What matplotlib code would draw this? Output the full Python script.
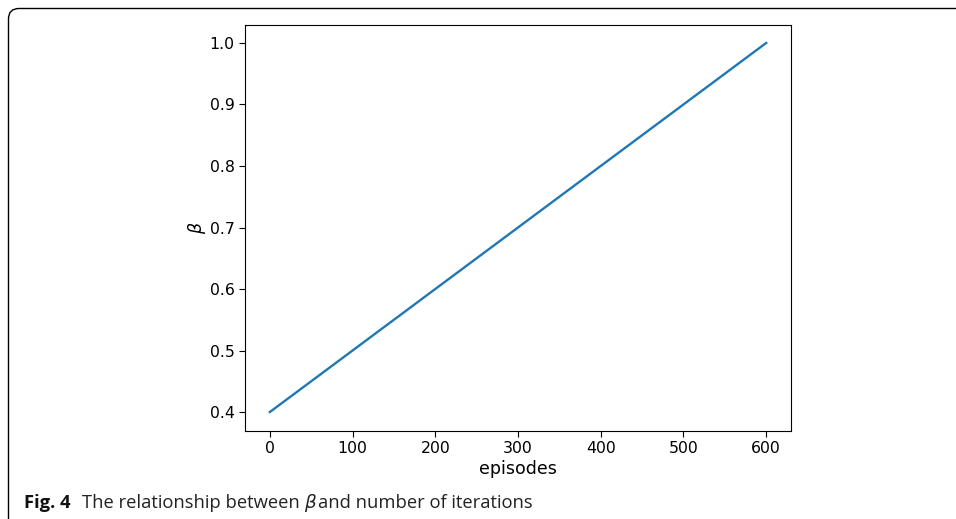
import matplotlib
matplotlib.use("Agg")
import matplotlib.pyplot as plt
from matplotlib.patches import FancyBboxPatch

# data: beta grows linearly over the episodes
episodes = [0, 600]
beta = [0.4, 1.0]
x_ticks = [0, 100, 200, 300, 400, 500, 600]
y_ticks = [0.4, 0.5, 0.6, 0.7, 0.8, 0.9, 1.0]

W, H = 956, 519
fig = plt.figure(figsize=(W / 100, H / 100), dpi=100)

# rounded frame of the journal figure box (runs off the right and bottom edge)
frame = FancyBboxPatch((8.5 / W, -12 / H), 1.2, (H - 8.5 + 12) / H,
                       boxstyle="round,pad=0,rounding_size=0.011",
                       transform=fig.transFigure, facecolor="none",
                       edgecolor="black", linewidth=1.0, mutation_aspect=W / H)
fig.patches.append(frame)

ax = fig.add_axes([245 / W, 1 - 430.5 / H, 546 / W, 406 / H])
ax.plot(episodes, beta, color="#1f77b4", linewidth=1.7)
ax.set_xticks(x_ticks)
ax.set_yticks(y_ticks)
ax.tick_params(labelsize=11.3, length=4)
ax.set_xlabel("episodes", fontsize=12.5, labelpad=3)
ax.set_ylabel(r"$\beta$", fontsize=12.5, labelpad=1)

# caption: bold "Fig. 4" then the plain text
fs = 13.2
yb = 1 - 507.5 / H
fig.canvas.draw()
r = fig.canvas.get_renderer()
t1 = fig.text(24 / W, yb, "Fig. 4", fontsize=fs, fontweight="bold",
              family="Open Sans", va="baseline", color="#111111")
bb = t1.get_window_extent(r)
t2 = fig.text((bb.x1 + 11) / W, yb, "The relationship between ", fontsize=fs,
              family="Open Sans", va="baseline", color="#222222")
bb = t2.get_window_extent(r)
t3 = fig.text(bb.x1 / W, yb, r"$\beta$", fontsize=fs, va="baseline", color="#222222")
bb = t3.get_window_extent(r)
fig.text((bb.x1 + 1) / W, yb, "and number of iterations", fontsize=fs,
         family="Open Sans", va="baseline", color="#222222")

fig.savefig("out.png", dpi=100)
